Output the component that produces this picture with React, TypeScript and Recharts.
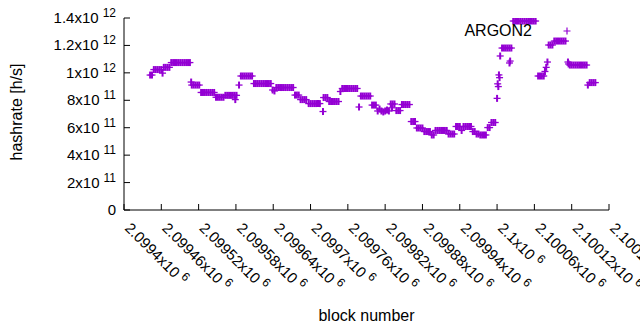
import React from "react";
import { ScatterChart, Scatter, XAxis, YAxis, Legend, Label } from "recharts";

// ARGON2 hashrate per block, values in GH/s
const partOne: [number, number][] = [
  [2099442, 984], [2099445, 984],
  [2099448, 1024], [2099451, 1024], [2099454, 1024], [2099457, 1024], [2099460, 1024],
  [2099462, 998],
  [2099464, 1040], [2099467, 1040], [2099470, 1040], [2099473, 1040],
  [2099476, 1075], [2099479, 1075], [2099482, 1075], [2099485, 1075], [2099488, 1075], [2099491, 1075],
  [2099494, 1075], [2099497, 1075], [2099500, 1075], [2099503, 1075], [2099506, 1075],
  [2099508, 933], [2099509, 911], [2099512, 911], [2099515, 911], [2099518, 911], [2099521, 911],
  [2099524, 857], [2099527, 857], [2099530, 857], [2099533, 857], [2099536, 857], [2099539, 857],
  [2099542, 857], [2099545, 857],
  [2099548, 822], [2099551, 822], [2099554, 822], [2099557, 822], [2099560, 822],
  [2099563, 836], [2099566, 836], [2099569, 836], [2099572, 836], [2099575, 836], [2099578, 836], [2099581, 836],
  [2099579, 805], [2099585, 911],
  [2099588, 977], [2099591, 977], [2099594, 977], [2099597, 977], [2099600, 977], [2099603, 977], [2099606, 977],
];

const partTwo: [number, number][] = [
  [2099609, 922], [2099612, 922], [2099615, 922], [2099618, 922], [2099621, 922], [2099624, 922],
  [2099627, 922], [2099630, 922], [2099633, 922], [2099636, 922],
  [2099639, 875], [2099642, 868],
  [2099645, 893], [2099648, 893], [2099651, 893], [2099654, 893], [2099657, 893], [2099660, 893],
  [2099663, 893], [2099666, 893], [2099669, 893], [2099672, 893],
  [2099675, 838], [2099678, 838], [2099681, 838],
  [2099684, 805], [2099687, 805], [2099690, 805], [2099693, 805],
  [2099697, 776], [2099700, 776], [2099703, 776], [2099706, 776], [2099709, 776], [2099712, 776], [2099715, 776],
  [2099720, 718],
  [2099721, 820], [2099724, 820], [2099727, 820],
  [2099730, 791], [2099733, 791], [2099736, 791], [2099739, 791], [2099742, 791], [2099745, 791],
  [2099748, 864],
  [2099751, 886], [2099754, 886], [2099757, 886], [2099760, 886], [2099763, 886], [2099766, 886],
  [2099769, 886], [2099772, 886], [2099775, 886],
  [2099778, 751],
  [2099781, 831], [2099784, 831], [2099787, 831], [2099790, 831], [2099793, 831], [2099796, 831],
  [2099799, 765], [2099802, 765], [2099805, 765],
  [2099808, 722], [2099811, 736], [2099814, 722], [2099817, 715], [2099820, 722], [2099823, 729], [2099826, 722],
  [2099829, 773], [2099831, 745], [2099832, 773], [2099835, 773],
  [2099838, 725], [2099841, 725], [2099844, 725],
  [2099847, 769], [2099850, 769], [2099853, 769], [2099856, 769], [2099859, 769],
];

const partThree: [number, number][] = [
  [2099862, 645], [2099865, 645], [2099868, 645],
  [2099871, 598], [2099874, 598], [2099877, 598], [2099880, 598],
  [2099883, 572], [2099886, 572], [2099889, 572], [2099892, 572],
  [2099895, 547], [2099898, 547],
  [2099901, 580], [2099904, 580], [2099907, 580], [2099910, 580], [2099913, 580], [2099916, 580], [2099919, 580],
  [2099922, 554], [2099925, 554], [2099928, 554], [2099931, 554],
  [2099934, 609], [2099937, 609], [2099940, 609],
  [2099943, 580],
  [2099946, 609], [2099949, 609], [2099952, 609], [2099955, 609], [2099958, 609],
  [2099961, 572], [2099964, 572],
  [2099967, 554], [2099970, 554],
  [2099973, 547], [2099976, 547], [2099979, 547], [2099982, 547],
  [2099985, 601], [2099988, 601],
  [2099991, 638], [2099994, 638], [2099997, 638],
  [2100000, 814], [2100001, 920], [2100002, 900], [2100003, 985], [2100004, 965], [2100005, 1123],
  [2100008, 1181], [2100011, 1181], [2100014, 1181], [2100017, 1181], [2100020, 1181], [2100023, 1181],
  [2100020, 1072], [2100021, 1086],
];

const partFour: [number, number][] = [
  [2100026, 1378], [2100029, 1378], [2100032, 1378], [2100035, 1378], [2100038, 1378], [2100041, 1378],
  [2100044, 1378], [2100047, 1378], [2100050, 1378], [2100053, 1378], [2100056, 1378], [2100059, 1378],
  [2100062, 1378],
  [2100066, 977], [2100069, 977], [2100072, 977], [2100075, 977],
  [2100077, 1010], [2100079, 1040], [2100081, 1079],
  [2100083, 1203], [2100086, 1203], [2100089, 1203],
  [2100092, 1232], [2100095, 1232], [2100098, 1232], [2100101, 1232], [2100104, 1232], [2100107, 1232], [2100110, 1232],
  [2100114, 1079], [2100115, 1065],
  [2100117, 1057], [2100120, 1057], [2100123, 1057], [2100126, 1057], [2100129, 1057], [2100132, 1057],
  [2100135, 1057], [2100138, 1057], [2100141, 1057], [2100144, 1057],
  [2100146, 911],
  [2100149, 929], [2100152, 929], [2100155, 929], [2100158, 929],
];

const xTicks = [2099400, 2099460, 2099520, 2099580, 2099640, 2099700, 2099760, 2099820, 2099880, 2099940, 2100000, 2100060, 2100120, 2100180];
const yTicks = [0, 2e11, 4e11, 6e11, 8e11, 1e12, 1.2e12, 1.4e12];

const points = [...partOne, ...partTwo, ...partThree, ...partFour].map(([block, gh]) => ({ block, hashrate: gh * 1e9 }));

const FONT = "'Liberation Sans', Arial, sans-serif";
const COLOR = "#9400d3";

// gnuplot style "+" point; vertical arm a bit heavier so dense runs read as solid bands
const Plus = (props: any) => {
  const { cx, cy } = props;
  return (
    <g stroke={COLOR} fill="none">
      <path d={`M${cx - 3.5},${cy}h7`} strokeWidth={1.3} />
      <path d={`M${cx},${cy - 3.5}v7`} strokeWidth={2} />
    </g>
  );
};

const splitExp = (v: number) => {
  const exp = Math.floor(Math.log10(v) + 1e-9);
  const mant = parseFloat((v / Math.pow(10, exp)).toPrecision(7));
  return { mant: String(mant), exp };
};

const YTick = ({ x, y, payload }: any) => {
  const v = payload.value;
  if (v === 0) {
    return <text x={x} y={y + 5} textAnchor="end" fontSize={15} fontFamily={FONT} fill="#000">0</text>;
  }
  const { mant, exp } = splitExp(v);
  return (
    <text x={x} y={y + 5} textAnchor="end" fontSize={15} fontFamily={FONT} fill="#000">
      {mant}x10<tspan dx={4} dy={-6} fontSize={12}>{exp}</tspan>
    </text>
  );
};

const XTick = ({ x, y, payload }: any) => {
  const mant = String(parseFloat((payload.value / 1e6).toPrecision(7)));
  return (
    <text x={x} y={y} transform={`rotate(45 ${x} ${y})`} fontSize={15} fontFamily={FONT} fill="#000">
      {mant}x10<tspan dx={4} dy={-6} fontSize={12}>6</tspan>
    </text>
  );
};

const KeyBox = () => (
  <svg width={130} height={20}>
    <text x={77} y={15} textAnchor="end" fontSize={16} fontFamily={FONT} fill="#000">ARGON2</text>
    <path d="M108.5,10h7M112,6.5v7" stroke={COLOR} strokeWidth={1.2} fill="none" />
  </svg>
);

export default function App() {
  return (
    <div style={{ position: "absolute", left: 0, top: 0, background: "#fff" }}>
      <ScatterChart width={640} height={330} margin={{ top: 18, right: 31, bottom: 0, left: 0 }}>
        <XAxis
          xAxisId="b" orientation="bottom" type="number" dataKey="block"
          domain={[2099400, 2100180]} ticks={xTicks} interval={0} allowDataOverflow
          height={120} tickSize={-6} tickMargin={25} stroke="#000" tick={<XTick />}
        >
          <Label value="block number" position="insideBottom" offset={9} fontSize={16} fontFamily={FONT} fill="#000" />
        </XAxis>
        <XAxis
          xAxisId="t" orientation="top" type="number" dataKey="block"
          domain={[2099400, 2100180]} ticks={xTicks} interval={0} allowDataOverflow
          height={0} tickSize={-6} stroke="#000" tick={false}
        />
        <YAxis
          yAxisId="l" orientation="left" type="number" dataKey="hashrate"
          domain={[0, 1.4e12]} ticks={yTicks} interval={0} allowDataOverflow
          width={124} tickSize={-6} tickMargin={14} stroke="#000" tick={<YTick />}
        >
          <Label
            content={() => (
              <text x={22} y={112} transform="rotate(-90 22 112)" textAnchor="middle" fontSize={16} fontFamily={FONT} fill="#000">
                hashrate [h/s]
              </text>
            )}
          />
        </YAxis>
        <YAxis
          yAxisId="r" orientation="right" type="number" dataKey="hashrate"
          domain={[0, 1.4e12]} ticks={yTicks} interval={0} allowDataOverflow
          width={0} tickSize={-6} stroke="#000" tick={false}
        />
        <Legend
          layout="horizontal" verticalAlign="middle" align="center"
          wrapperStyle={{ left: 455, top: 21, width: 130, height: 20 }}
          content={() => <KeyBox />}
        />
        <Scatter name="ARGON2" data={points} xAxisId="b" yAxisId="l" shape={<Plus />} isAnimationActive={false} />
        <Scatter data={points} xAxisId="t" yAxisId="r" shape={() => <g />} isAnimationActive={false} legendType="none" />
      </ScatterChart>
    </div>
  );
}
